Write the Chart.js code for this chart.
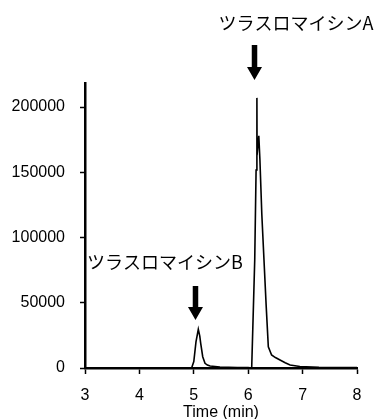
<!DOCTYPE html>
<html>
<head>
<meta charset="utf-8">
<script src="https://cdn.jsdelivr.net/npm/chart.js@4.4.1/dist/chart.umd.min.js"></script>
<style>
  html, body { margin: 0; padding: 0; background: #fff; }
  #wrap { width: 377px; height: 419px; }
</style>
</head>
<body>
<div id="wrap"><canvas id="c" width="377" height="419"></canvas></div>
<script>
// ---- data ----
const times  = [3.0, 4.0, 4.9, 4.96, 5.0,  5.04,  5.083, 5.11,  5.127, 5.164, 5.206, 5.25, 5.30, 5.48, 5.8, 6.0, 6.064, 6.12,  6.145,  6.16,   6.163,  6.195,  6.215,  6.25,   6.29,  6.33,  6.37,  6.43,  6.5,  6.585, 6.68, 6.77, 6.95, 7.3, 8.0];
const signal = [0,   0,   0,   0,    5000, 20000, 29650, 24500, 18900, 8660,  3600,  2200, 1500, 800,  400, 300, 0,     82760, 151700, 207000, 163000, 178000, 160000, 118000, 83000, 48000, 16300, 10000, 8000, 6100,  4000, 2300, 1150, 600, 300];
const yTicks = [0, 50000, 100000, 150000, 200000];
const xTicks = [3, 4, 5, 6, 7, 8];
const peakLabels = ['ツラスロマイシンA', 'ツラスロマイシンB'];

// annotation placement (data coordinates)
const labelPos = [{x: 6.879, y: 264000}, {x: 4.47, y: 81200}];
const arrowPos = [{x: 6.116, y1: 247500, y2: 220700}, {x: 5.031, y1: 62800, y2: 36800}];

const points = times.map((t, i) => ({x: t, y: signal[i]}));

const annotate = {
  id: 'annotate',
  afterDraw(chart) {
    const ctx = chart.ctx;
    const xs = chart.scales.x, ys = chart.scales.y;
    ctx.save();
    ctx.fillStyle = '#000';
    ctx.font = '18px "Noto Sans CJK JP", sans-serif';
    ctx.textAlign = 'center';
    ctx.textBaseline = 'middle';
    peakLabels.forEach((txt, i) => {
      ctx.fillText(txt, xs.getPixelForValue(labelPos[i].x), ys.getPixelForValue(labelPos[i].y));
    });
    arrowPos.forEach(a => {
      const cx = xs.getPixelForValue(a.x);
      const top = ys.getPixelForValue(a.y1);
      const bot = ys.getPixelForValue(a.y2);
      const headH = 13, headW = 15, shaftW = 5.5;
      ctx.beginPath();
      ctx.moveTo(cx - shaftW / 2, top);
      ctx.lineTo(cx + shaftW / 2, top);
      ctx.lineTo(cx + shaftW / 2, bot - headH);
      ctx.lineTo(cx + headW / 2, bot - headH);
      ctx.lineTo(cx, bot);
      ctx.lineTo(cx - headW / 2, bot - headH);
      ctx.lineTo(cx - shaftW / 2, bot - headH);
      ctx.closePath();
      ctx.fill();
    });
    ctx.restore();
  }
};

new Chart(document.getElementById('c'), {
  type: 'line',
  data: {
    datasets: [{
      data: points,
      borderColor: '#000',
      borderWidth: 1.6,
      pointRadius: 0,
      tension: 0,
      fill: false
    }]
  },
  options: {
    responsive: false,
    animation: false,
    devicePixelRatio: 1,
    layout: { padding: { top: 83, right: 20, left: 0, bottom: 0 } },
    plugins: { legend: { display: false }, tooltip: { enabled: false } },
    scales: {
      x: {
        type: 'linear',
        min: 3, max: 8,
        afterBuildTicks: s => { s.ticks = xTicks.map(v => ({value: v})); },
        afterFit: s => { s.height = 51; },
        grid: { drawOnChartArea: false, drawTicks: true, tickLength: 6, tickColor: '#000', tickWidth: 1.5 },
        border: { display: true, color: '#000', width: 2.5 },
        ticks: { color: '#000', font: { family: '"Liberation Sans", Arial, sans-serif', size: 16 }, padding: 12, maxRotation: 0, callback: v => String(v) },
        title: { display: true, text: 'Time (min)', color: '#000', font: { family: '"Liberation Sans", Arial, sans-serif', size: 16, lineHeight: 0.8 }, padding: { top: 0, bottom: 0 } }
      },
      y: {
        min: 0, max: 218400,
        afterBuildTicks: s => { s.ticks = yTicks.map(v => ({value: v})); },
        afterFit: s => { s.width = 85; },
        grid: { drawOnChartArea: false, drawTicks: true, tickLength: 5, tickColor: '#000', tickWidth: 1.5 },
        border: { display: true, color: '#000', width: 2.5 },
        ticks: { color: '#000', font: { family: '"Liberation Sans", Arial, sans-serif', size: 16 }, padding: 15, callback: v => String(v) }
      }
    }
  },
  plugins: [annotate]
});
</script>
</body>
</html>
